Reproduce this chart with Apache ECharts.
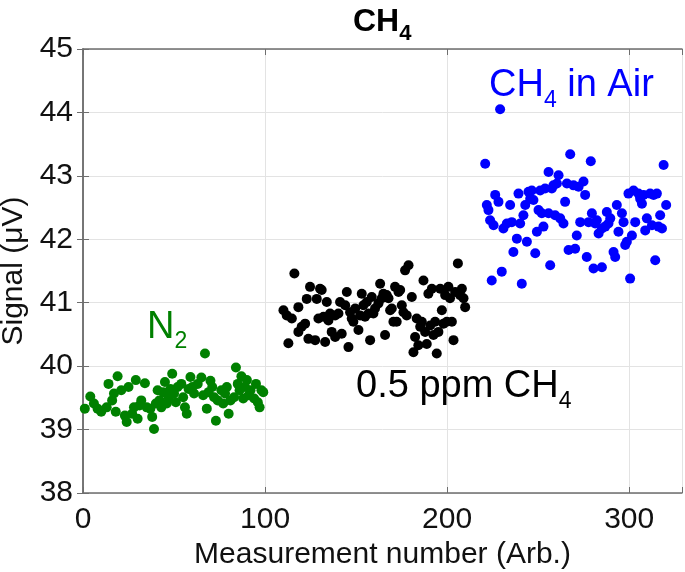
<!DOCTYPE html>
<html>
<head>
<meta charset="utf-8">
<script src="https://cdn.jsdelivr.net/npm/echarts@6/dist/echarts.min.js"></script>
<style>html,body{margin:0;padding:0;background:#fff;}#chart{width:685px;height:572px;}</style>
</head>
<body>
<div id="chart"></div>
<script>
const FONT = '"Liberation Sans", Arial, sans-serif';
const xTickLabels = [0, 100, 200, 300];
const yTickLabels = [38, 39, 40, 41, 42, 43, 44, 45];

const n2X = [1,4,6,8,10,13,14,16,17,19,18,21,23,24,25,27,28,29,30,31,32,34,35,37,38,39,40,41,42,43,44,45,46,47,48,49,50,51,52,54,55,56,57,58,59,60,61,63,65,66,67,68,69,70,71,72,73,74,76,77,78,79,80,81,83,84,85,86,87,88,89,90,91,92,94,95,96,97,98,99];
const n2Y = [39.33,39.52,39.41,39.33,39.28,39.35,39.72,39.46,39.57,39.84,
  39.28,39.62,39.22,39.12,39.67,39.25,39.35,39.78,39.17,39.38,
  39.46,39.73,39.35,39.33,39.20,39.01,39.41,39.62,39.46,39.35,
  39.59,39.75,39.41,39.51,39.64,39.88,39.57,39.43,39.67,39.72,
  39.51,39.35,39.25,39.64,39.83,39.67,39.57,39.72,39.82,39.54,
  40.20,39.33,39.59,39.77,39.67,39.51,39.14,39.46,39.62,39.41,
  39.57,39.67,39.25,39.46,39.51,39.98,39.72,39.62,39.84,39.49,
  39.67,39.78,39.54,39.62,39.49,39.72,39.43,39.35,39.62,39.59];

const ppmX = [116.1,110.1,111.9,112.8,114.7,118.3,118.3,120.1,122.0,122.9,
  124.7,123.8,127.5,128.4,129.3,130.2,131.1,132.1,133.0,133.9,
  134.8,135.7,136.6,138.5,138.5,140.3,141.2,142.1,144.0,144.9,
  145.8,146.7,147.6,148.5,149.5,151.3,152.2,153.1,154.0,154.9,
  155.9,156.8,157.7,158.6,159.5,160.4,162.3,163.2,164.1,165.0,
  165.9,166.8,167.8,168.7,169.6,170.5,171.4,172.3,173.3,174.2,
  175.1,176.0,176.9,177.8,178.8,180.6,181.5,182.4,183.3,184.2,
  185.2,186.1,187.0,187.9,188.8,189.7,190.7,191.6,192.5,193.4,
  194.3,195.2,196.2,197.1,198.0,198.9,199.8,200.7,201.6,202.6,
  203.5,204.4,205.9,207.1,208.1,209.0,209.9];
const ppmY = [41.46,40.88,40.80,40.36,40.75,40.93,40.54,40.62,40.67,41.06,
  41.25,40.43,40.41,41.06,40.75,41.22,41.20,40.78,40.38,41.01,
  40.72,40.83,40.54,40.80,40.46,40.83,41.01,40.51,40.96,41.17,
  40.30,40.85,40.75,40.70,40.91,40.57,40.80,41.14,40.96,40.78,
  41.01,40.83,40.41,41.09,40.83,40.91,40.99,41.30,41.07,41.14,
  40.49,41.12,41.07,40.88,40.91,40.70,41.25,40.70,41.17,41.20,
  40.96,40.85,41.51,40.80,41.59,41.09,40.22,40.46,40.75,40.33,
  40.62,40.70,41.35,40.54,40.35,41.14,40.64,41.22,40.49,40.70,
  40.20,40.54,41.22,40.88,40.67,41.12,40.70,41.25,41.07,40.70,
  40.41,41.17,41.62,41.12,41.22,41.07,40.93];

const airX = [220.9,229.1,221.8,222.7,223.6,225.5,226.4,228.2,230.0,224.5,
  230.9,232.8,234.6,235.5,236.4,238.3,239.2,240.1,241.0,241.9,
  242.9,243.8,244.7,245.6,246.5,247.4,248.4,249.3,250.2,251.1,
  252.0,252.9,253.8,255.7,255.7,256.6,257.5,258.4,259.3,260.3,
  261.2,262.1,263.9,264.8,265.8,266.7,267.6,269.4,270.3,271.2,
  272.2,273.1,274.9,275.8,276.7,277.7,278.9,279.5,280.4,281.3,
  282.2,283.2,285.0,285.0,286.8,287.7,288.6,289.6,291.4,292.3,
  293.2,294.1,296.0,296.9,297.8,298.7,299.6,300.5,301.5,302.4,
  303.3,305.1,306.0,307.0,307.9,308.8,309.7,311.5,312.5,313.4,
  314.3,315.2,316.1,317.0,318.0,318.9,320.3];
const airY = [43.19,44.05,42.54,42.46,42.30,42.22,42.70,42.59,41.49,41.35,
  42.17,42.25,42.54,42.27,41.80,42.01,42.72,42.25,41.30,42.38,
  42.54,41.96,42.75,42.64,42.77,42.62,41.78,42.12,42.46,42.77,
  42.41,42.20,42.80,43.06,42.41,41.59,42.80,42.85,42.38,42.88,
  43.01,42.33,42.25,42.59,42.88,41.83,43.34,42.85,41.85,42.06,
  42.83,42.27,42.91,42.70,41.72,42.27,43.23,42.41,41.54,42.25,
  42.30,42.09,41.56,42.17,42.20,42.43,42.25,42.33,41.80,41.72,
  42.54,42.12,42.41,42.27,41.91,41.96,42.72,41.38,42.06,42.77,
  42.27,42.72,42.64,42.56,42.70,42.14,42.33,42.72,42.22,42.70,
  41.67,42.72,42.20,42.38,42.17,43.17,42.54];

const zip = (xs, ys) => xs.map((x, i) => [x, ys[i]]);

const AXIS_COLOR = '#6e6e6e';
const GRID_COLOR = '#e3e3e3';

function mkX(pos, showLabel) {
  return {
    type: 'value', position: pos, min: 0, max: 329, interval: 100,
    axisLine: { show: true, lineStyle: { color: AXIS_COLOR, width: 1.5 } },
    axisTick: { show: true, inside: true, length: 6, lineStyle: { color: AXIS_COLOR } },
    splitLine: { show: showLabel, lineStyle: { color: GRID_COLOR, width: 1 } },
    axisLabel: showLabel ? {
      show: true, fontSize: 30, color: '#111', fontFamily: FONT, margin: 12,
      formatter: v => (xTickLabels.indexOf(v) >= 0 ? String(v) : '')
    } : { show: false },
    name: showLabel ? 'Measurement number (Arb.)' : '',
    nameLocation: 'middle', nameGap: 42,
    nameTextStyle: { fontSize: 30, color: '#111', fontFamily: FONT }
  };
}
function mkY(pos, showLabel) {
  return {
    type: 'value', position: pos, min: 38, max: 45, interval: 1,
    axisLine: { show: true, lineStyle: { color: AXIS_COLOR, width: 1.5 } },
    axisTick: { show: true, inside: true, length: 6, lineStyle: { color: AXIS_COLOR } },
    splitLine: { show: showLabel, lineStyle: { color: GRID_COLOR, width: 1 } },
    axisLabel: showLabel ? {
      show: true, fontSize: 30, color: '#111', fontFamily: FONT, margin: 10,
      formatter: v => (yTickLabels.indexOf(v) >= 0 ? String(v) : '')
    } : { show: false },
    name: showLabel ? 'Signal (\u03bcV)' : '',
    nameLocation: 'middle', nameGap: 46,
    nameTextStyle: { fontSize: 30, color: '#111', fontFamily: FONT }
  };
}

// text measuring for subscript placement
const mctx = document.createElement('canvas').getContext('2d');
function textWidth(t, size, weight) {
  mctx.font = (weight || 'normal') + ' ' + size + 'px ' + FONT;
  return mctx.measureText(t).width;
}
// label with subscript: [before, sub, after]
function subLabel(parts, x, yMid, size, subSize, color, weight, drop) {
  const w = weight || 'normal';
  const els = [];
  const mk = (t, xx, yy, s) => ({
    type: 'text', x: xx, y: yy, z: 100, silent: true,
    style: { text: t, fontSize: s, fontFamily: FONT, fontWeight: w, fill: color, align: 'left', verticalAlign: 'middle' }
  });
  els.push(mk(parts[0], x, yMid, size));
  const w0 = textWidth(parts[0], size, w);
  const ySub = yMid + 0.31 * size - 0.31 * subSize + drop;
  els.push(mk(parts[1], x + w0, ySub, subSize));
  if (parts[2]) {
    const w1 = textWidth(parts[1], subSize, w);
    els.push(mk(parts[2], x + w0 + w1, yMid, size));
  }
  return els;
}

const chart = echarts.init(document.getElementById('chart'), null, { renderer: 'canvas' });
chart.setOption({
  animation: false,
  backgroundColor: '#ffffff',
  grid: { left: 83, right: 3, top: 49, bottom: 79, containLabel: false, outerBoundsMode: 'none' },
  xAxis: [mkX('bottom', true), mkX('top', false)],
  yAxis: [mkY('left', true), mkY('right', false)],
  series: [
    { name: 'N2', type: 'scatter', xAxisIndex: 0, yAxisIndex: 0, symbol: 'circle', symbolSize: 10,
      itemStyle: { color: '#008000', opacity: 1 }, data: zip(n2X, n2Y) },
    { name: '0.5 ppm CH4', type: 'scatter', xAxisIndex: 0, yAxisIndex: 0, symbol: 'circle', symbolSize: 10,
      itemStyle: { color: '#000000', opacity: 1 }, data: zip(ppmX, ppmY) },
    { name: 'CH4 in Air', type: 'scatter', xAxisIndex: 0, yAxisIndex: 0, symbol: 'circle', symbolSize: 10,
      itemStyle: { color: '#0000ff', opacity: 1 }, data: zip(airX, airY) }
  ],
  graphic: [].concat(
    subLabel(['CH', '4'], 353, 22, 32, 22, '#000', 'bold', 9),
    subLabel(['N', '2'], 147, 328, 38, 23, '#008000', 'normal', 9),
    subLabel(['0.5 ppm CH', '4'], 356, 387, 38, 23, '#000', 'normal', 10),
    subLabel(['CH', '4', ' in Air'], 489, 86, 38, 23, '#0000ff', 'normal', 10)
  )
});
</script>
</body>
</html>
